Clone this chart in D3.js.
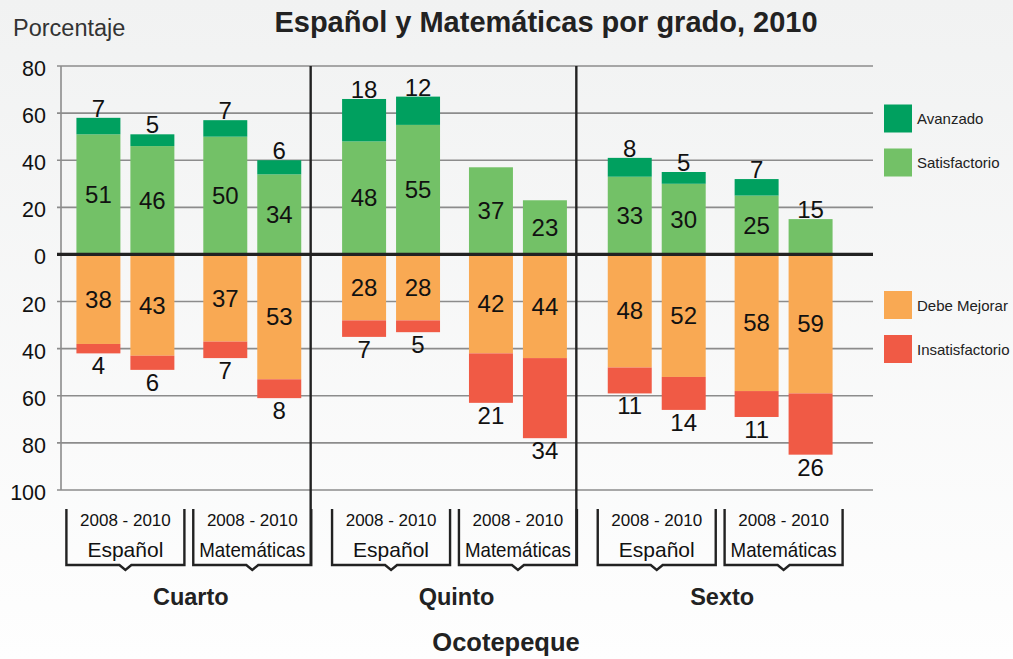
<!DOCTYPE html>
<html>
<head>
<meta charset="utf-8">
<script src="https://cdn.jsdelivr.net/npm/d3@7"></script>
<style>
  html, body { margin: 0; padding: 0; }
  body { width: 1013px; height: 659px; overflow: hidden; }
  svg { display: block; font-family: "Liberation Sans", Arial, sans-serif; }
</style>
</head>
<body>
<svg id="chart" width="1013" height="659"></svg>
<script>
// Achievement levels per grade, subject and period (percent of students)
const grades = ["Cuarto", "Quinto", "Sexto"];
const subjects = ["Español", "Matemáticas"];
const periods = ["2008", "2010"];
const avanzado        = [7, 5, 7, 6, 18, 12, 0, 0, 8, 5, 7, 0];
const satisfactorio   = [51, 46, 50, 34, 48, 55, 37, 23, 33, 30, 25, 15];
const debeMejorar     = [38, 43, 37, 53, 28, 28, 42, 44, 48, 52, 58, 59];
const insatisfactorio = [4, 6, 7, 8, 7, 5, 21, 34, 11, 14, 11, 26];
const yTicks = [80, 60, 40, 20, 0, -20, -40, -60, -80, -100];
const levels = ["Avanzado", "Satisfactorio", "Debe Mejorar", "Insatisfactorio"];
const levelColors = ["#00a05f", "#73c167", "#f9a953", "#f05a45"];
const periodLabel = "2008 - 2010";
const title = "Español y Matemáticas por grado, 2010";
const yTitle = "Porcentaje";
const region = "Ocotepeque";

// one row per bar
const rows = [];
let k = 0;
grades.forEach(g => subjects.forEach(s => periods.forEach(p => {
  rows.push({
    grade: g, subject: s, period: p,
    "Avanzado": avanzado[k],
    "Satisfactorio": satisfactorio[k],
    "Debe Mejorar": -debeMejorar[k],
    "Insatisfactorio": -insatisfactorio[k]
  });
  k++;
})));

const svg = d3.select("#chart");

// soft background
const defs = svg.append("defs");
const grad = defs.append("linearGradient").attr("id", "bg").attr("x1", 0).attr("y1", 0).attr("x2", 0).attr("y2", 1);
grad.append("stop").attr("offset", "0%").attr("stop-color", "#f1f2f2");
grad.append("stop").attr("offset", "100%").attr("stop-color", "#fefefe");
svg.append("rect").attr("width", 1013).attr("height", 659).attr("fill", "url(#bg)");

const plotLeft = 60, plotRight = 873;
const y = d3.scaleLinear().domain([-100, 80]).range([490, 66]);

const xGrade = d3.scaleBand().domain(grades).range([56, 853]).paddingInner(0).paddingOuter(0);
const xSubject = d3.scaleBand().domain(subjects).range([0, xGrade.bandwidth()])
  .paddingInner(0.228).paddingOuter(0.161);
const xPeriod = d3.scaleBand().domain(periods).range([0, xSubject.bandwidth()])
  .paddingInner(0.185).paddingOuter(0);
const barX = d => xGrade(d.grade) + xSubject(d.subject) + xPeriod(d.period);
const bw = xPeriod.bandwidth();

// gridlines
svg.append("g").selectAll("line")
  .data(yTicks.filter(t => t !== 0))
  .join("line")
  .attr("x1", plotLeft - 3).attr("x2", plotRight)
  .attr("y1", d => y(d)).attr("y2", d => y(d))
  .attr("stroke", "#8c8c8c").attr("stroke-width", 1.6);

// left axis line
svg.append("line")
  .attr("x1", plotLeft + 1).attr("x2", plotLeft + 1)
  .attr("y1", y(80)).attr("y2", y(-100))
  .attr("stroke", "#8c8c8c").attr("stroke-width", 1.6);

// tick labels (absolute values)
svg.append("g").selectAll("text")
  .data(yTicks)
  .join("text")
  .attr("x", 46).attr("y", d => y(d) + 10)
  .attr("text-anchor", "end")
  .attr("font-size", 21.5).attr("fill", "#111")
  .text(d => Math.abs(d));

// stacked bars
const stack = d3.stack()
  .keys(["Satisfactorio", "Avanzado", "Debe Mejorar", "Insatisfactorio"])
  .offset(d3.stackOffsetDiverging);
const series = stack(rows);
const color = d3.scaleOrdinal().domain(levels).range(levelColors);

svg.append("g").selectAll("g")
  .data(series)
  .join("g")
  .attr("fill", s => color(s.key))
  .selectAll("rect")
  .data(s => s.filter(d => d[1] - d[0] !== 0))
  .join("rect")
  .attr("x", d => barX(d.data))
  .attr("width", bw)
  .attr("y", d => y(Math.max(d[0], d[1])))
  .attr("height", d => Math.abs(y(d[0]) - y(d[1])));

// zero line
svg.append("line")
  .attr("x1", plotLeft - 3).attr("x2", plotRight)
  .attr("y1", y(0)).attr("y2", y(0))
  .attr("stroke", "#222").attr("stroke-width", 3.2);

// grade separators
const sepOffset = -11;
svg.append("g").selectAll("line")
  .data(grades.slice(1))
  .join("line")
  .attr("x1", g => xGrade(g) + sepOffset).attr("x2", g => xGrade(g) + sepOffset)
  .attr("y1", y(80)).attr("y2", 566)
  .attr("stroke", "#222").attr("stroke-width", 2.4);

// value labels
const labels = [];
rows.forEach(r => {
  const cx = barX(r) + bw / 2;
  const av = r["Avanzado"], sat = r["Satisfactorio"];
  const dm = -r["Debe Mejorar"], ins = -r["Insatisfactorio"];
  if (av > 0) labels.push({ x: cx, y: y(sat + av) - 1, v: av });
  if (av === 0 && sat < 20) labels.push({ x: cx, y: y(sat) - 1, v: sat });
  else labels.push({ x: cx, y: y(sat / 2) + 8.5, v: sat });
  labels.push({ x: cx, y: y(-dm / 2) + 8.5, v: dm });
  if (ins > 0) labels.push({ x: cx, y: y(-dm - ins) + 21, v: ins });
});
svg.append("g").selectAll("text")
  .data(labels)
  .join("text")
  .attr("x", d => d.x).attr("y", d => d.y)
  .attr("text-anchor", "middle")
  .attr("font-size", 24).attr("fill", "#111")
  .text(d => d.v);

// subject brackets
const brackets = [];
grades.forEach(g => subjects.forEach(s => {
  brackets.push({ grade: g, subject: s, cx: xGrade(g) + xSubject(s) + xSubject.bandwidth() / 2 });
}));
const bHalf = 59, bTop = 509, bBot = 565;
const bg = svg.append("g").selectAll("g").data(brackets).join("g");
bg.append("path")
  .attr("d", d => `M${d.cx - bHalf},${bTop} V${bBot} H${d.cx - 6} L${d.cx},${bBot + 5} L${d.cx + 6},${bBot} H${d.cx + bHalf} V${bTop}`)
  .attr("fill", "none").attr("stroke", "#222").attr("stroke-width", 2.4);
bg.append("text")
  .attr("x", d => d.cx).attr("y", 526)
  .attr("text-anchor", "middle").attr("font-size", 17).attr("fill", "#111")
  .text(periodLabel);
// subject names, condensed when they would overflow the bracket
const maxSubjectWidth = 2 * bHalf - 12;
bg.append("text")
  .attr("x", d => d.cx).attr("y", 557)
  .attr("text-anchor", "middle").attr("font-size", 21).attr("fill", "#111")
  .text(d => d.subject)
  .each(function () {
    if (this.getComputedTextLength() > maxSubjectWidth) {
      d3.select(this).attr("textLength", maxSubjectWidth).attr("lengthAdjust", "spacingAndGlyphs");
    }
  });

// grade labels
svg.append("g").selectAll("text")
  .data(grades)
  .join("text")
  .attr("x", g => xGrade(g) + xGrade.bandwidth() / 2 + 2)
  .attr("y", 605)
  .attr("text-anchor", "middle").attr("font-size", 23.5).attr("font-weight", "bold").attr("fill", "#222")
  .text(g => g);

// region label
svg.append("text")
  .attr("x", 506).attr("y", 651)
  .attr("text-anchor", "middle").attr("font-size", 25.5).attr("font-weight", "bold").attr("fill", "#222")
  .text(region);

// title and axis title
svg.append("text")
  .attr("x", 546).attr("y", 32)
  .attr("text-anchor", "middle").attr("font-size", 29).attr("font-weight", "bold").attr("fill", "#222")
  .text(title);
svg.append("text")
  .attr("x", 13).attr("y", 36)
  .attr("font-size", 23.5).attr("fill", "#333")
  .text(yTitle);

// legend
const legendY = [118.5, 162.5, 305, 349];
const lg = svg.append("g").selectAll("g")
  .data(levels)
  .join("g")
  .attr("transform", (d, i) => `translate(884,${legendY[i]})`);
lg.append("rect")
  .attr("x", 0).attr("y", -14).attr("width", 28).attr("height", 28)
  .attr("fill", d => color(d));
lg.append("text")
  .attr("x", 33).attr("y", 5.5)
  .attr("font-size", 15).attr("fill", "#222")
  .text(d => d);
</script>
</body>
</html>
